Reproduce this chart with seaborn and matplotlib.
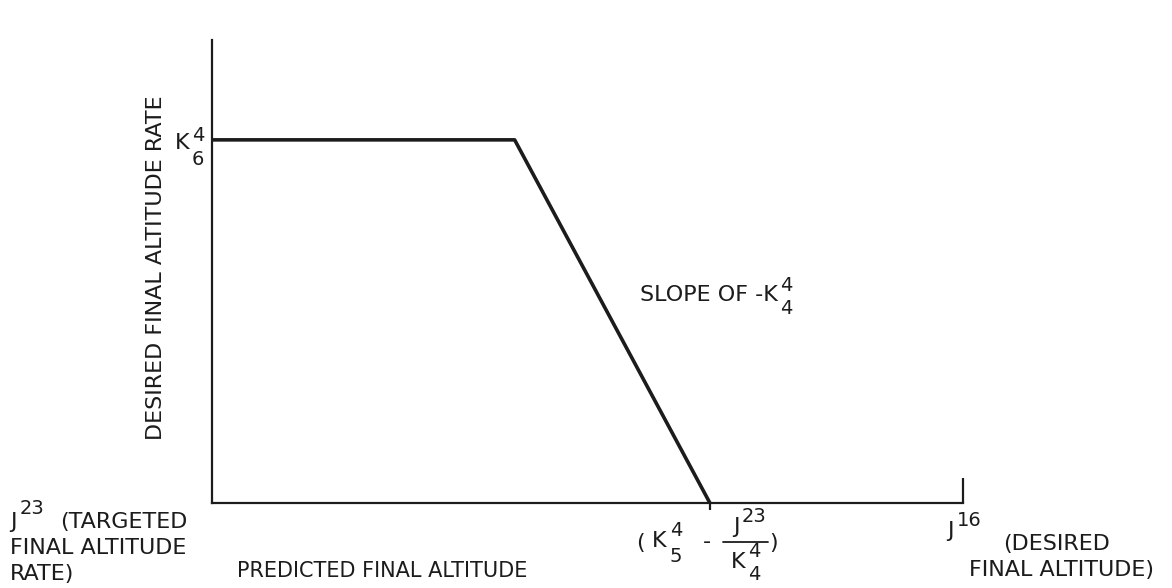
import matplotlib
matplotlib.use("Agg")
import matplotlib.pyplot as plt
from matplotlib.lines import Line2D
import seaborn as sns
import pandas as pd

# Data (normalized: x = predicted final altitude, J16 at 1.0; y = rate, K6 at 1.0)
x_vals = [0.0, 0.403, 0.663]
y_vals = [1.0, 1.0, 0.0]
x_end = 1.0
y_top = 1.275

sns.set_style("white")
plt.rcParams['font.family'] = ['DejaVu Sans']

W, H = 1172, 588
ink = '#1c1c1c'
fig = plt.figure(figsize=(W/100, H/100), dpi=100)
ax = fig.add_axes([212/W, 85/H, (963-212)/W, (503-40)/H])

df = pd.DataFrame({'x': x_vals, 'y': y_vals})
sns.lineplot(data=df, x='x', y='y', ax=ax, color=ink, linewidth=2.6, sort=False)

ax.set_xlim(0, x_end)
ax.set_ylim(0, y_top)
for s in ['top', 'right']:
    ax.spines[s].set_visible(False)
for s in ['left', 'bottom']:
    ax.spines[s].set_color(ink)
    ax.spines[s].set_linewidth(1.6)

ax.set_xticks([x_end])
ax.set_xticks([x_vals[2]], minor=True)
ax.tick_params(axis='x', which='major', direction='in', length=18, width=1.6,
               color=ink, labelbottom=False, bottom=True)
ax.tick_params(axis='x', which='minor', direction='out', length=5, width=1.6,
               color=ink, bottom=True)
ax.set_yticks([])
ax.set_xlabel('')
ax.set_ylabel('')

FS = 16
SS = 14
renderer = fig.canvas.get_renderer()

def ftext(px, py, s, size=FS, **kw):
    kw.setdefault('ha', 'left')
    kw.setdefault('va', 'baseline')
    return fig.text(px/W, 1 - py/H, s, color=ink, fontsize=size, **kw)

def right_edge(t):
    return t.get_window_extent(renderer).x1

def scripted(px, py, base, sup=None, sub=None, sup_dy=-11, sub_dy=15, gap=2, size=FS):
    t = ftext(px, py, base, size=size)
    xr = right_edge(t) + gap
    ends = [xr]
    if sup:
        ts = ftext(xr, py + sup_dy, sup, size=SS)
        ends.append(right_edge(ts))
    if sub:
        tb = ftext(xr, py + sub_dy, sub, size=SS)
        ends.append(right_edge(tb))
    return max(ends)

# y-axis label
ftext(156, 268, 'DESIRED FINAL ALTITUDE RATE', rotation=90, ha='center', va='center')

# K6^4 at the plateau
scripted(175, 149, 'K', sup='4', sub='6', sup_dy=-8, sub_dy=16)

# slope annotation
scripted(640, 301, 'SLOPE OF -K', sup='4', sub='4', sup_dy=-10, sub_dy=13)

# left block
scripted(10, 528, 'J', sup='23', sup_dy=-14, gap=3)
ftext(60, 528, '(TARGETED')
ftext(10, 554, 'FINAL ALTITUDE')
ftext(10, 580, 'RATE)')

# x label
ftext(237, 577, 'PREDICTED FINAL ALTITUDE', size=15)

# intercept expression (K5^4 - J23 / K4^4)
ftext(636, 549, '(')
scripted(652, 547, 'K', sup='4', sub='5', sup_dy=-11, sub_dy=15, gap=3)
ftext(707, 542, '-', ha='center', va='center')
scripted(733, 533, 'J', sup='23', sup_dy=-11, gap=2)
fig.add_artist(Line2D([723/W, 768/W], [1 - 542/H, 1 - 542/H], color=ink, lw=1.3))
scripted(731, 568, 'K', sup='4', sub='4', sup_dy=-11, sub_dy=12, gap=2)
ftext(769, 549, ')')

# right block
scripted(947, 537, 'J', sup='16', sup_dy=-11, gap=3)
ftext(1003, 550, '(DESIRED')
ftext(1154, 576, 'FINAL ALTITUDE)', ha='right')

fig.savefig('out.png', dpi=100, facecolor='white')
